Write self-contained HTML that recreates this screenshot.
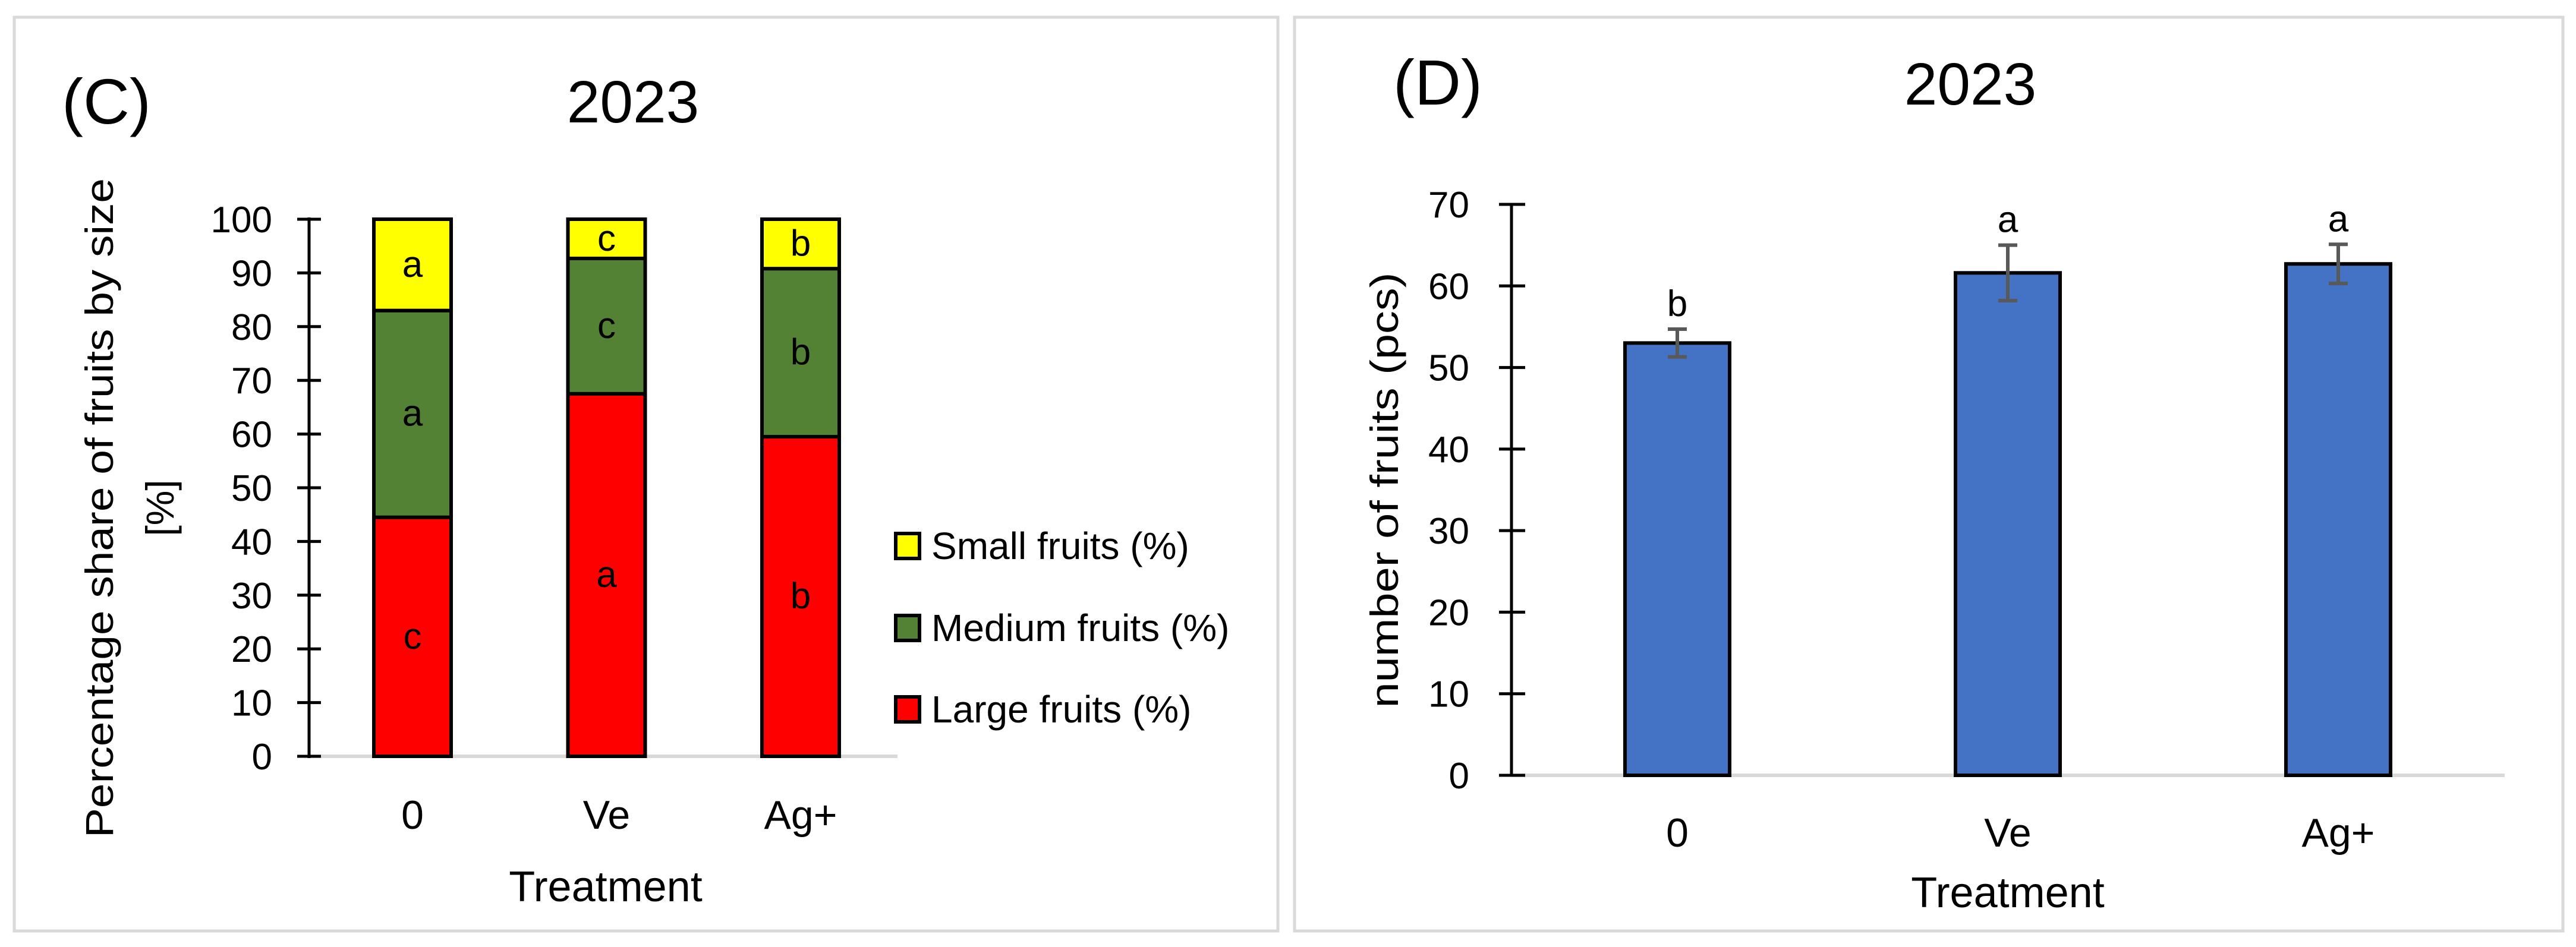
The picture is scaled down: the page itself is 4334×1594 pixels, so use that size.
<!DOCTYPE html>
<html><head><meta charset="utf-8"><style>
html,body{margin:0;padding:0;background:#fff}
svg{display:block}
text{font-family:"Liberation Sans",sans-serif;fill:#000}
</style></head><body>
<svg id="s" width="4334" height="1594" viewBox="0 0 4334 1594" xmlns="http://www.w3.org/2000/svg">
<rect x="24" y="29" width="2126" height="1538" fill="#fff" stroke="#d9d9d9" stroke-width="5"/>
<rect x="2178" y="29" width="2134" height="1538" fill="#fff" stroke="#d9d9d9" stroke-width="5"/>
<text x="104" y="208" font-size="108">(C)</text>
<text x="1065" y="206" font-size="100" text-anchor="middle">2023</text>
<text x="2344" y="176" font-size="108">(D)</text>
<text x="3315" y="176" font-size="100" text-anchor="middle">2023</text>
<g id="gc"></g><g id="gd"></g>
</svg>
<script>
const catsC=["0","Ve","Ag+"];
const largeC=[44.5,67.5,59.5];
const mediumC=[38.5,25.2,31.3];
const smallC=[17,7.3,9.2];
const largeL=["c","a","b"],mediumL=["a","c","b"],smallL=["a","c","b"];
const ticksC=[0,10,20,30,40,50,60,70,80,90,100];
const catsD=["0","Ve","Ag+"];
const valsD=[53,61.6,62.7];
const errD=[1.7,3.4,2.4];
const lettersD=["b","a","a"];
const ticksD=[0,10,20,30,40,50,60,70];
const NS="http://www.w3.org/2000/svg";
function mk(p,t,a,txt){const e=document.createElementNS(NS,t);for(const k in a)e.setAttribute(k,a[k]);if(txt!==undefined)e.textContent=txt;p.appendChild(e);return e;}
// Chart C
const gc=document.getElementById('gc');
const yC=v=>1273-(1273-369)*v/100;
const xC=i=>694+i*326.5;const bwC=130;
mk(gc,'line',{x1:518,y1:1273,x2:1510,y2:1273,stroke:'#d9d9d9','stroke-width':6});
ticksC.forEach(t=>{
 const l=mk(gc,'line',{x1:500,y1:yC(t),x2:540,y2:yC(t),stroke:'#000','stroke-width':5});
 
 const tx=mk(gc,'text',{x:458,y:yC(t)+22,'font-size':62,'text-anchor':'end'},t);
 
});
const ax=mk(gc,'line',{x1:520,y1:366,x2:520,y2:1276,stroke:'#000','stroke-width':5});

const seg=[[largeC,largeL,'#ff0000','large'],[mediumC,mediumL,'#548235','medium'],[smallC,smallL,'#ffff00','small']];
catsC.forEach((c,i)=>{
 let base=0;
 seg.forEach(s=>{
  const v=s[0][i];
  const r=mk(gc,'rect',{x:xC(i)-bwC/2,y:yC(base+v),width:bwC,height:yC(base)-yC(base+v),fill:s[2],stroke:'#000','stroke-width':6});
  
  const t=mk(gc,'text',{x:xC(i),y:yC(base+v/2)+20,'font-size':62,'text-anchor':'middle'},s[1][i]);
  
  base+=v;
 });
 const cl=mk(gc,'text',{x:xC(i),y:1395,'font-size':68,'text-anchor':'middle'},c);
 
});
let t1=mk(gc,'text',{x:1019,y:1517,'font-size':72,'text-anchor':'middle'},'Treatment');

let yt=mk(gc,'text',{transform:'translate(190,855) rotate(-90)','font-size':66,'text-anchor':'middle','font-family':'DejaVu Sans, sans-serif',textLength:1110,lengthAdjust:'spacingAndGlyphs'},'Percentage share of fruits by size');

yt=mk(gc,'text',{transform:'translate(292,855) rotate(-90)','font-size':66,'text-anchor':'middle','font-family':'DejaVu Sans, sans-serif'},'[%]');

const leg=[['Small fruits (%)','#ffff00',919],['Medium fruits (%)','#548235',1057],['Large fruits (%)','#ff0000',1194]];
leg.forEach(l=>{
 const r=mk(gc,'rect',{x:1507,y:l[2]-21,width:40,height:42,fill:l[1],stroke:'#000','stroke-width':6});
 
 const t=mk(gc,'text',{x:1567,y:l[2]+22,'font-size':64},l[0]);
 
});
// Chart D
const gd=document.getElementById('gd');
const yD=v=>1305-(1305-344)*v/70;
const xD=i=>2822+i*556;const bwD=176;
mk(gd,'line',{x1:2543,y1:1305,x2:4214,y2:1305,stroke:'#d9d9d9','stroke-width':6});
ticksD.forEach(t=>{
 const l=mk(gd,'line',{x1:2522,y1:yD(t),x2:2566,y2:yD(t),stroke:'#000','stroke-width':5});
 
 const tx=mk(gd,'text',{x:2472,y:yD(t)+22,'font-size':62,'text-anchor':'end'},t);
 
});
const axd=mk(gd,'line',{x1:2543,y1:342,x2:2543,y2:1307,stroke:'#000','stroke-width':5});

catsD.forEach((c,i)=>{
 const v=valsD[i],e=errD[i];
 const r=mk(gd,'rect',{x:xD(i)-bwD/2,y:yD(v),width:bwD,height:yD(0)-yD(v),fill:'#4472c4',stroke:'#000','stroke-width':6});
 
 const eb=mk(gd,'path',{d:`M${xD(i)},${yD(v-e)}V${yD(v+e)}M${xD(i)-16},${yD(v-e)}H${xD(i)+16}M${xD(i)-16},${yD(v+e)}H${xD(i)+16}`,stroke:'#595959','stroke-width':6,fill:'none'});
 
 const t=mk(gd,'text',{x:xD(i),y:yD(v+e)-22,'font-size':62,'text-anchor':'middle'},lettersD[i]);
 
 const cl=mk(gd,'text',{x:xD(i),y:1425,'font-size':68,'text-anchor':'middle'},c);
 
});
let t2=mk(gd,'text',{x:3378,y:1527,'font-size':72,'text-anchor':'middle'},'Treatment');

let yd=mk(gd,'text',{transform:'translate(2352,825) rotate(-90)','font-size':66,'text-anchor':'middle','font-family':'DejaVu Sans, sans-serif',textLength:733,lengthAdjust:'spacingAndGlyphs'},'number of fruits (pcs)');

</script>
</body></html>
